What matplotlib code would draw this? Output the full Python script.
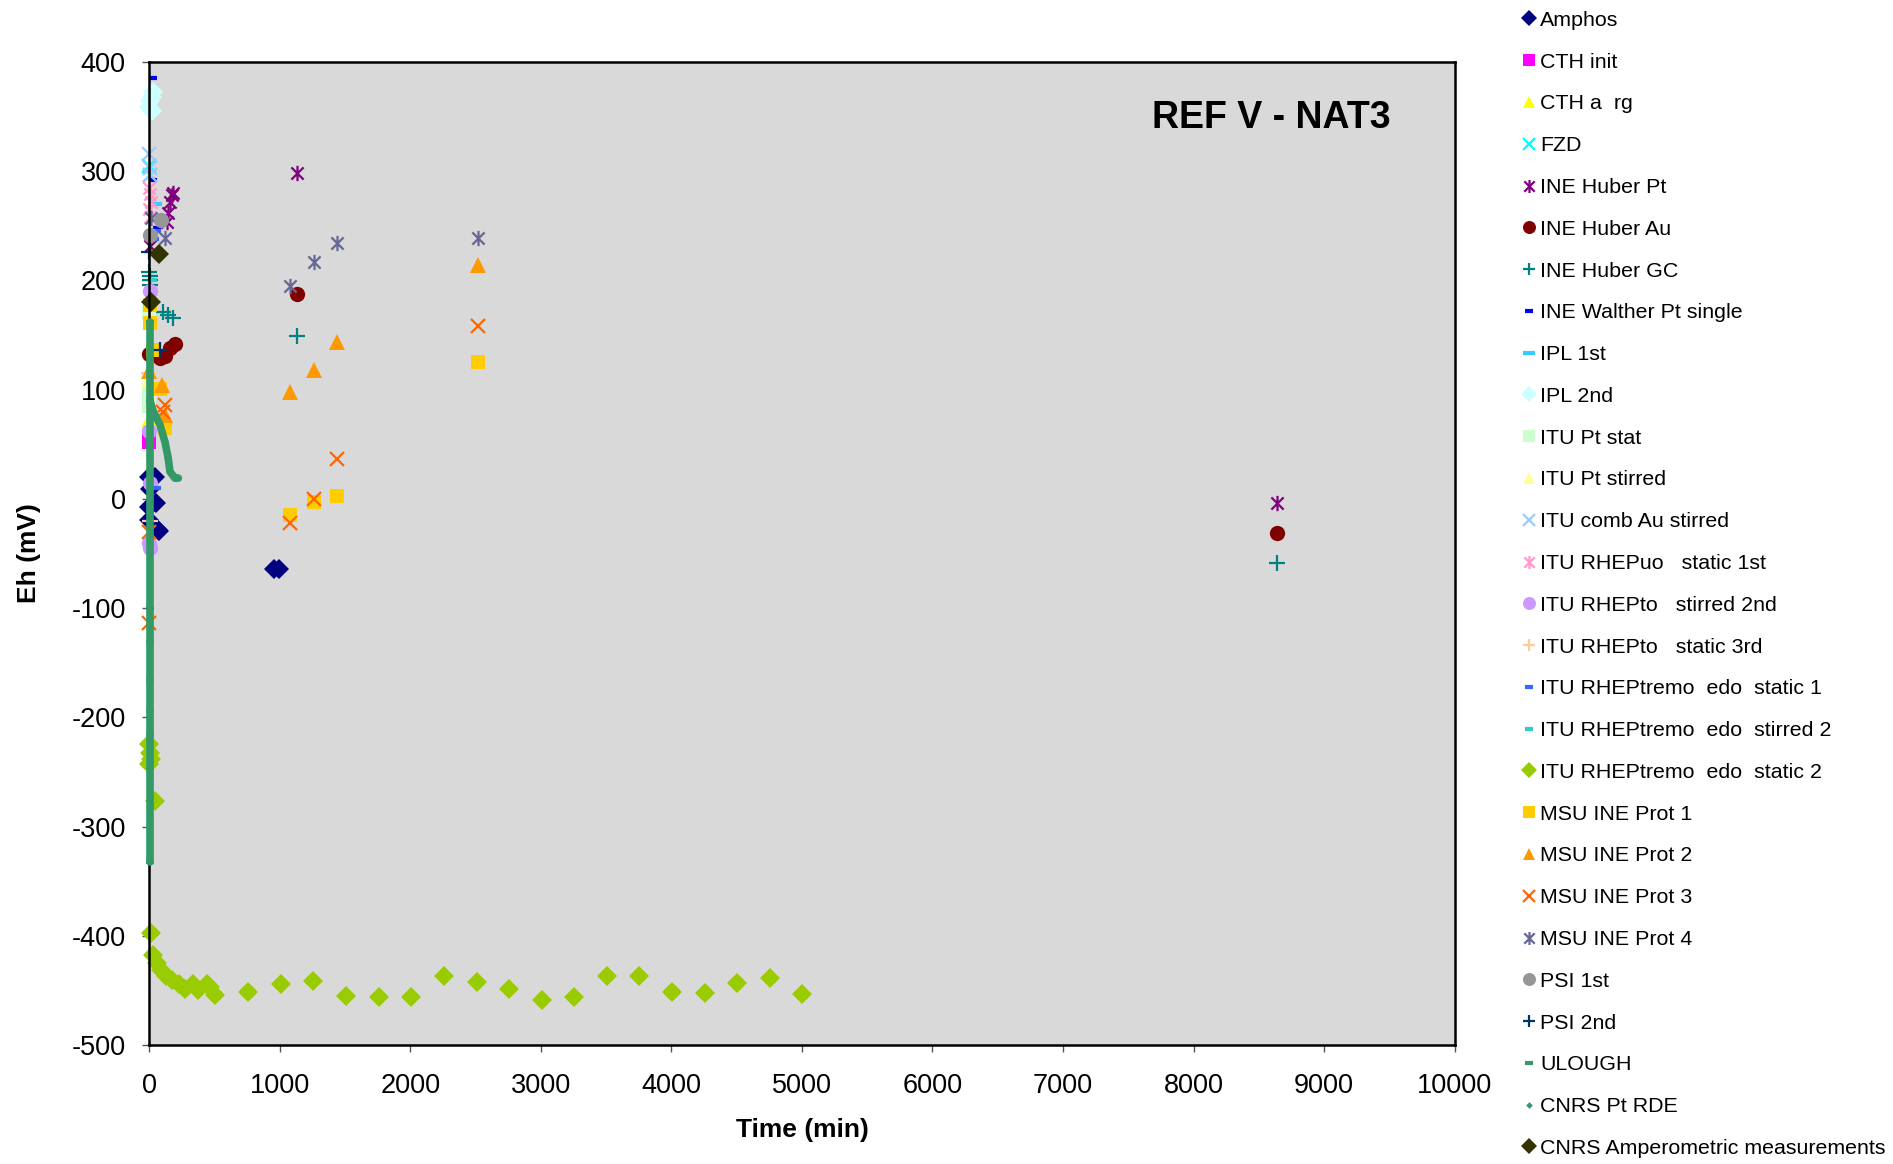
import matplotlib
matplotlib.use('Agg')
import matplotlib.pyplot as plt
from matplotlib.path import Path

plt.rcParams['font.family'] = ['Liberation Sans', 'DejaVu Sans']
plt.rcParams['axes.unicode_minus'] = False

# Eh readings per lab / electrode, time in minutes
amphos_t = [0, 5, 43, 0, 0, 49, 68, 77, 957, 990]
amphos_eh = [20, 9, 20, -7, -19, -4, -28, -29, -64, -64]

cth_init_t = [0, 0]
cth_init_eh = [52, 58]

cth_arg_t = [0]
cth_arg_eh = [72]

fzd_t = [0, 5]
fzd_eh = [305, 297]

ine_pt_t = [5, 132, 145, 158, 171, 183, 1133, 8640]
ine_pt_eh = [232, 254, 262, 272, 278, 280, 298, -4]

ine_au_t = [0, 81, 120, 158, 196, 1133, 8640]
ine_au_eh = [133, 129, 131, 138, 142, 188, -31]

ine_gc_t = [0, 5, 5, 5, 107, 145, 183, 1133, 8640]
ine_gc_eh = [208, 204, 200, 196, 171, 168, 166, 149, -59]

walther_t = [30, 30, 55]
walther_eh = [385, 292, 248]

ipl1_t = [43]
ipl1_eh = [270]

ipl2_t = [30, 20, 5, 0, 20]
ipl2_eh = [373, 368, 364, 359, 355]

itu_stat_t = [0, 0, 0, 0]
itu_stat_eh = [170, 100, 92, 85]

itu_stir_t = [0, 0]
itu_stir_eh = [68, 110]

itu_comb_t = [0, 5, 5]
itu_comb_eh = [316, 303, 297]

rhepuo_t = [0, 5, 10, 0, 5]
rhepuo_eh = [285, 279, 272, 265, 258]

rhepto2_t = [5, 0, 5, 0, 5]
rhepto2_eh = [190, 62, 15, -40, -45]

rhepto3_t = [0, 5]
rhepto3_eh = [115, -20]

tremo1_t = [56, 60, 45]
tremo1_eh = [10, 245, 238]

tremo_stir_t = [5, 5, 5, 5, 30]
tremo_stir_eh = [-131, -166, -194, -215, 200]

tremo2_t = [0, 5, 10, 0, 40, 10, 30, 60, 90, 130, 170, 230, 270, 335, 375, 440, 465, 500,
            758, 1005, 1254, 1510, 1759, 2005, 2257, 2507, 2756, 3005, 3254, 3507,
            3753, 4005, 4254, 4504, 4753, 5002]
tremo2_eh = [-224, -233, -238, -243, -277, -397, -418, -425, -431, -437, -440, -444, -449,
             -444, -450, -444, -447, -454, -451, -444, -441, -455, -456, -456, -437, -442,
             -449, -459, -456, -437, -437, -451, -452, -443, -439, -453]

msu1_t = [5, 5, 30, 81, 120, 1078, 1263, 1439, 2521]
msu1_eh = [178, 161, 136, 101, 65, -15, -3, 3, 125]

msu2_t = [0, 94, 120, 1078, 1263, 1439, 2521]
msu2_eh = [117, 104, 77, 98, 118, 144, 214]

msu3_t = [120, 105, 0, 0, 1078, 1263, 1439, 2521]
msu3_eh = [86, 80, -30, -114, -22, 0, 37, 158]

msu4_t = [120, 10, 1078, 1263, 1439, 2521]
msu4_eh = [239, 257, 195, 217, 234, 239]

psi1_t = [89, 5]
psi1_eh = [255, 242]

psi2_t = [81, 0]
psi2_eh = [136, 226]

ulough_t = [5, 5, 5, 5]
ulough_eh = [162, 90, -100, -332]

rde_t = [5, 30, 81, 120, 145, 158, 196, 222]
rde_eh = [90, 80, 68, 52, 37, 25, 19, 19]

ampero_t = [74, 12]
ampero_eh = [224, 180]

# Excel-style asterisk: vertical bar plus an X
star = Path([(0, -1), (0, 1), (-0.8, -0.8), (0.8, 0.8), (-0.8, 0.8), (0.8, -0.8)],
            [Path.MOVETO, Path.LINETO, Path.MOVETO, Path.LINETO, Path.MOVETO, Path.LINETO])

series = [
    ('Amphos', amphos_t, amphos_eh, 'D', '#000080', 10),
    ('CTH init', cth_init_t, cth_init_eh, 's', '#FF00FF', 10),
    ('CTH a  rg', cth_arg_t, cth_arg_eh, '^', '#FFFF00', 11),
    ('FZD', fzd_t, fzd_eh, 'x', '#00FFFF', 10),
    ('INE Huber Pt', ine_pt_t, ine_pt_eh, star, '#800080', 11),
    ('INE Huber Au', ine_au_t, ine_au_eh, 'o', '#800000', 11),
    ('INE Huber GC', ine_gc_t, ine_gc_eh, '+', '#008080', 11),
    ('INE Walther Pt single', walther_t, walther_eh, '_', '#0000FF', 6),
    ('IPL 1st', ipl1_t, ipl1_eh, '_', '#33CCFF', 10),
    ('IPL 2nd', ipl2_t, ipl2_eh, 'D', '#CCFFFF', 10),
    ('ITU Pt stat', itu_stat_t, itu_stat_eh, 's', '#CCFFCC', 10),
    ('ITU Pt stirred', itu_stir_t, itu_stir_eh, '^', '#FFFF99', 11),
    ('ITU comb Au stirred', itu_comb_t, itu_comb_eh, 'x', '#99CCFF', 10),
    ('ITU RHEPuo   static 1st', rhepuo_t, rhepuo_eh, star, '#FF99CC', 11),
    ('ITU RHEPto   stirred 2nd', rhepto2_t, rhepto2_eh, 'o', '#CC99FF', 11),
    ('ITU RHEPto   static 3rd', rhepto3_t, rhepto3_eh, '+', '#FFCC99', 11),
    ('ITU RHEPtremo  edo  static 1', tremo1_t, tremo1_eh, '_', '#3366FF', 6),
    ('ITU RHEPtremo  edo  stirred 2', tremo_stir_t, tremo_stir_eh, '_', '#33CCCC', 6),
    ('ITU RHEPtremo  edo  static 2', tremo2_t, tremo2_eh, 'D', '#99CC00', 10),
    ('MSU INE Prot 1', msu1_t, msu1_eh, 's', '#FFCC00', 10),
    ('MSU INE Prot 2', msu2_t, msu2_eh, '^', '#FF9900', 11),
    ('MSU INE Prot 3', msu3_t, msu3_eh, 'x', '#FF6600', 10),
    ('MSU INE Prot 4', msu4_t, msu4_eh, star, '#666699', 11),
    ('PSI 1st', psi1_t, psi1_eh, 'o', '#969696', 11),
    ('PSI 2nd', psi2_t, psi2_eh, '+', '#003366', 11),
    ('ULOUGH', ulough_t, ulough_eh, '_', '#339966', 6),
    ('CNRS Pt RDE', rde_t, rde_eh, 'D', '#339966', 4),
    ('CNRS Amperometric measurements', ampero_t, ampero_eh, 'D', '#333300', 10),
]

fig = plt.figure(figsize=(18.93, 11.64), dpi=100)
ax = fig.add_axes([0.0789, 0.1022, 0.6895, 0.8445])
ax.set_facecolor('#D9D9D9')

# continuous loggers look like thick bands
ax.plot(ulough_t, ulough_eh, color='#339966', lw=5.5, solid_capstyle='round', clip_on=False, zorder=3)
ax.plot(rde_t, rde_eh, color='#339966', lw=5.5, solid_capstyle='round', clip_on=False, zorder=3)

handles = []
for name, t, eh, m, c, ms in series:
    lines = m in ('x', '+', '_') or isinstance(m, Path)
    h, = ax.plot(t, eh, linestyle='none', marker=m, ms=ms, color=c,
                 mfc=c, mec=c, mew=(3 if m == '_' else 1.6) if lines else 0,
                 label=name, clip_on=False, zorder=2)
    handles.append(h)

ax.set_xlim(0, 10000)
ax.set_ylim(-500, 400)
ax.set_xticks(range(0, 10001, 1000))
ax.set_yticks(range(-500, 401, 100))
ax.tick_params(labelsize=19.5, direction='out', length=5, width=1, color='#555555')
ax.tick_params(axis='x', pad=15)
ax.tick_params(axis='y', pad=12)
for s in ax.spines.values():
    s.set_linewidth(1.8)
ax.set_xlabel('Time (min)', fontsize=19, fontweight='bold', labelpad=14)
ax.set_ylabel('Eh (mV)', fontsize=19, fontweight='bold', labelpad=22)
ax.text(0.951, 0.961, 'REF V - NAT3', transform=ax.transAxes, ha='right', va='top',
        fontsize=27, fontweight='bold')

fig.legend(handles=handles, loc='upper left', bbox_to_anchor=(0.800, 0.998),
           frameon=False, fontsize=15.4, handlelength=0.6, handletextpad=0.2,
           labelspacing=1.065, borderaxespad=0, markerscale=0.85)

fig.savefig('out.png', dpi=100)
